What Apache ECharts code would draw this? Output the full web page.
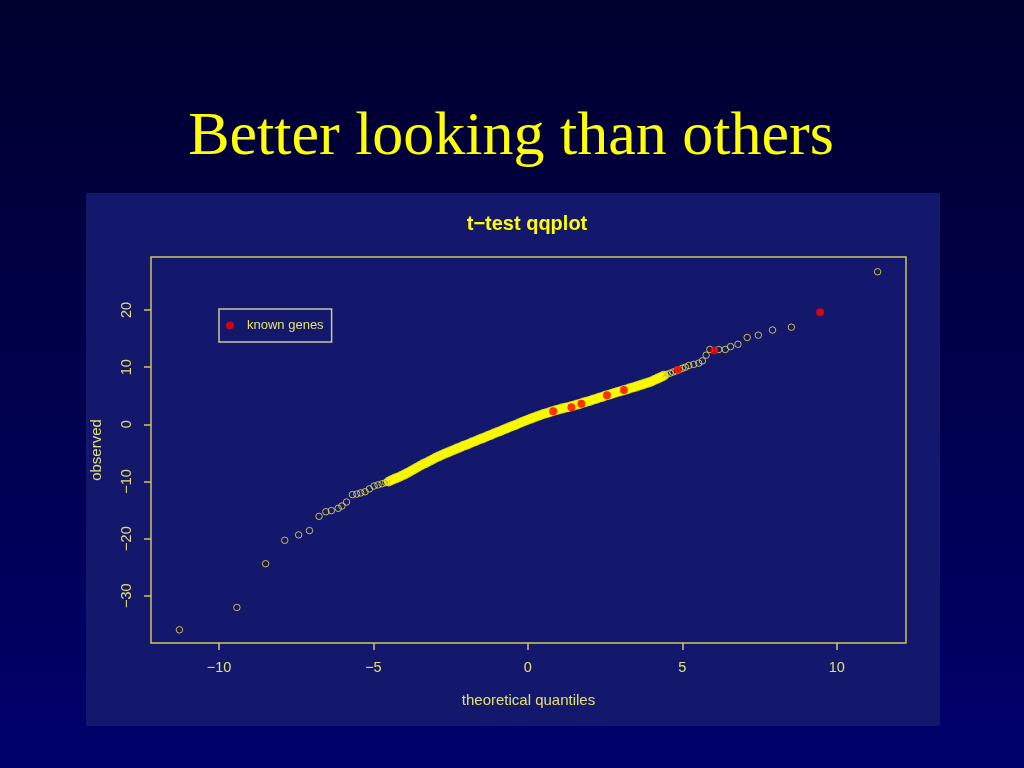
<!DOCTYPE html>
<html>
<head>
<meta charset="utf-8">
<script src="https://cdn.jsdelivr.net/npm/echarts@6.0.0/dist/echarts.min.js"></script>
<style>
html,body{margin:0;padding:0;overflow:hidden;background:#000040;}
#main{width:1024px;height:768px;}
</style>
</head>
<body>
<div id="main"></div>
<script>
// Tick labels
const xTicks = [-10, -5, 0, 5, 10];
const yTicks = [-30, -20, -10, 0, 10, 20];

// Sparse (tail) observed points: theoretical quantile / observed t
const tailX = [-11.28,-9.42,-8.49,-7.87,-7.42,-7.07,-6.76,-6.54,-6.36,-6.14,-6.02,-5.87,-5.68,-5.54,-5.41,-5.27,-5.13,-4.98,-4.85,-4.72,-4.6,
               4.5,4.6,4.7,4.8,4.9,5.0,5.1,5.21,5.37,5.53,5.65,5.77,5.89,6.18,6.39,6.56,6.80,7.10,7.46,7.92,8.53,11.32];
const tailY = [-35.96,-32.05,-24.4,-20.3,-19.35,-18.6,-16.1,-15.3,-15.1,-14.7,-14.3,-13.6,-12.3,-12.2,-12.0,-11.8,-11.3,-10.8,-10.6,-10.4,-10.2,
               8.75,8.95,9.15,9.35,9.55,9.8,10.0,10.3,10.5,10.7,11.1,12.1,13.1,13.1,13.1,13.6,14.0,15.2,15.6,16.5,17.0,26.7];

// Dense (bulk) observed points
const bulkX = [-4.5,-4.4,-4.3,-4.2,-4.1,-4.0,-3.9,-3.8,-3.7,-3.6,
               -3.5,-3.4,-3.3,-3.2,-3.1,-3.0,-2.9,-2.8,-2.7,-2.6,
               -2.5,-2.4,-2.3,-2.2,-2.1,-2.0,-1.9,-1.8,-1.7,-1.6,
               -1.5,-1.4,-1.3,-1.2,-1.1,-1.0,-0.9,-0.8,-0.7,-0.6,
               -0.5,-0.4,-0.3,-0.2,-0.1,0.0,0.1,0.2,0.3,0.4,
               0.5,0.6,0.7,0.8,0.9,1.0,1.1,1.2,1.3,1.4,
               1.5,1.6,1.7,1.8,1.9,2.0,2.1,2.2,2.3,2.4,
               2.5,2.6,2.7,2.8,2.9,3.0,3.1,3.2,3.3,3.4,
               3.5,3.6,3.7,3.8,3.9,4.0,4.1,4.2,4.3,4.4];
const bulkY = [-10.0,-9.75,-9.5,-9.3,-9.05,-8.8,-8.5,-8.2,-7.9,-7.6,
               -7.3,-7.0,-6.75,-6.45,-6.2,-5.9,-5.65,-5.4,-5.15,-4.95,
               -4.7,-4.5,-4.25,-4.05,-3.8,-3.6,-3.4,-3.15,-2.95,-2.7,
               -2.5,-2.3,-2.05,-1.85,-1.6,-1.4,-1.2,-0.95,-0.75,-0.5,
               -0.3,-0.1,0.15,0.35,0.6,0.8,1.0,1.2,1.4,1.6,
               1.8,1.95,2.1,2.3,2.45,2.6,2.75,2.9,3.0,3.15,
               3.3,3.45,3.6,3.8,3.95,4.1,4.3,4.45,4.65,4.8,
               5.0,5.15,5.3,5.5,5.65,5.8,5.95,6.1,6.3,6.45,
               6.6,6.8,6.95,7.15,7.3,7.5,7.75,8.0,8.25,8.5];

// Known genes
const knownX = [0.82,1.41,1.73,2.56,3.11,4.85,6.03,9.46];
const knownY = [2.27,3.0,3.6,5.1,6.0,9.56,12.9,19.6];

const zip = (a, b) => a.map((v, i) => [v, b[i]]);
const minus = v => String(v).replace('-', '\u2212');

const axisCol = '#cdc658';
const labelCol = '#e2e070';
const sans = '"Liberation Sans", Arial, sans-serif';

const chart = echarts.init(document.getElementById('main'), null, {renderer: 'canvas'});
chart.setOption({
  animation: false,
  backgroundColor: {type: 'linear', x: 0, y: 0, x2: 0, y2: 1,
    colorStops: [{offset: 0, color: '#00002e'}, {offset: 1, color: '#00006c'}]},
  graphic: [
    {type: 'rect', z: -10, silent: true, shape: {x: 86, y: 193, width: 854, height: 533}, style: {fill: '#13186c'}},
    {type: 'text', silent: true, x: 511, y: 138,
     style: {text: 'Better looking than others', font: '62px "Liberation Serif", "Times New Roman", serif',
             fill: '#ffff00', textAlign: 'center', textVerticalAlign: 'middle'}},
    {type: 'text', silent: true, x: 527, y: 224,
     style: {text: 't\u2212test qqplot', font: 'bold 20px ' + sans,
             fill: '#ffff00', textAlign: 'center', textVerticalAlign: 'middle'}}
  ],
  legend: {
    data: ['known genes'], left: 219, top: 309, orient: 'vertical',
    padding: [10, 8, 10, 7], itemWidth: 24, itemHeight: 8, itemGap: 0,
    borderColor: '#c8c8a4', borderWidth: 1.5, icon: 'circle', selectedMode: false,
    textStyle: {color: labelCol, fontSize: 13, fontFamily: sans}
  },
  grid: {left: 151, top: 257, width: 755, height: 386, show: true,
         borderColor: axisCol, borderWidth: 1.5, backgroundColor: 'transparent',
         outerBoundsMode: 'none'},
  xAxis: {
    type: 'value', min: -12.2, max: 12.24,
    axisLine: {show: false, onZero: false}, splitLine: {show: false},
    axisTick: {show: true, length: 7, customValues: xTicks, lineStyle: {color: axisCol, width: 1.5}},
    axisLabel: {customValues: xTicks, formatter: minus, color: labelCol, fontSize: 14.5, margin: 17, fontFamily: sans},
    name: 'theoretical quantiles', nameLocation: 'middle', nameGap: 50,
    nameTextStyle: {color: labelCol, fontSize: 15, fontFamily: sans}
  },
  yAxis: {
    type: 'value', min: -38.27, max: 29.28,
    axisLine: {show: false, onZero: false}, splitLine: {show: false},
    axisTick: {show: true, length: 7, customValues: yTicks, lineStyle: {color: axisCol, width: 1.5}},
    axisLabel: {customValues: yTicks, formatter: minus, color: labelCol, fontSize: 14.5, margin: 17, rotate: 90, fontFamily: sans},
    name: 'observed', nameLocation: 'middle', nameGap: 47, nameRotate: 90,
    nameTextStyle: {color: labelCol, fontSize: 15, fontFamily: sans}
  },
  series: [
    {name: 'observed', type: 'scatter', silent: true, data: zip(tailX, tailY),
     symbol: 'circle', symbolSize: 6.5,
     itemStyle: {color: 'rgba(0,0,0,0)', borderColor: '#eee64a', borderWidth: 1}},
    {name: 'observed', type: 'scatter', silent: true, data: zip(bulkX, bulkY),
     symbol: 'circle', symbolSize: 6.5,
     itemStyle: {color: 'rgba(0,0,0,0)', borderColor: '#ffff00', borderWidth: 3.5}},
    {name: 'known genes', type: 'scatter', silent: true, data: zip(knownX, knownY),
     symbol: 'circle', symbolSize: 8,
     itemStyle: {color: '#ff0000'}}
  ]
});
</script>
</body>
</html>
